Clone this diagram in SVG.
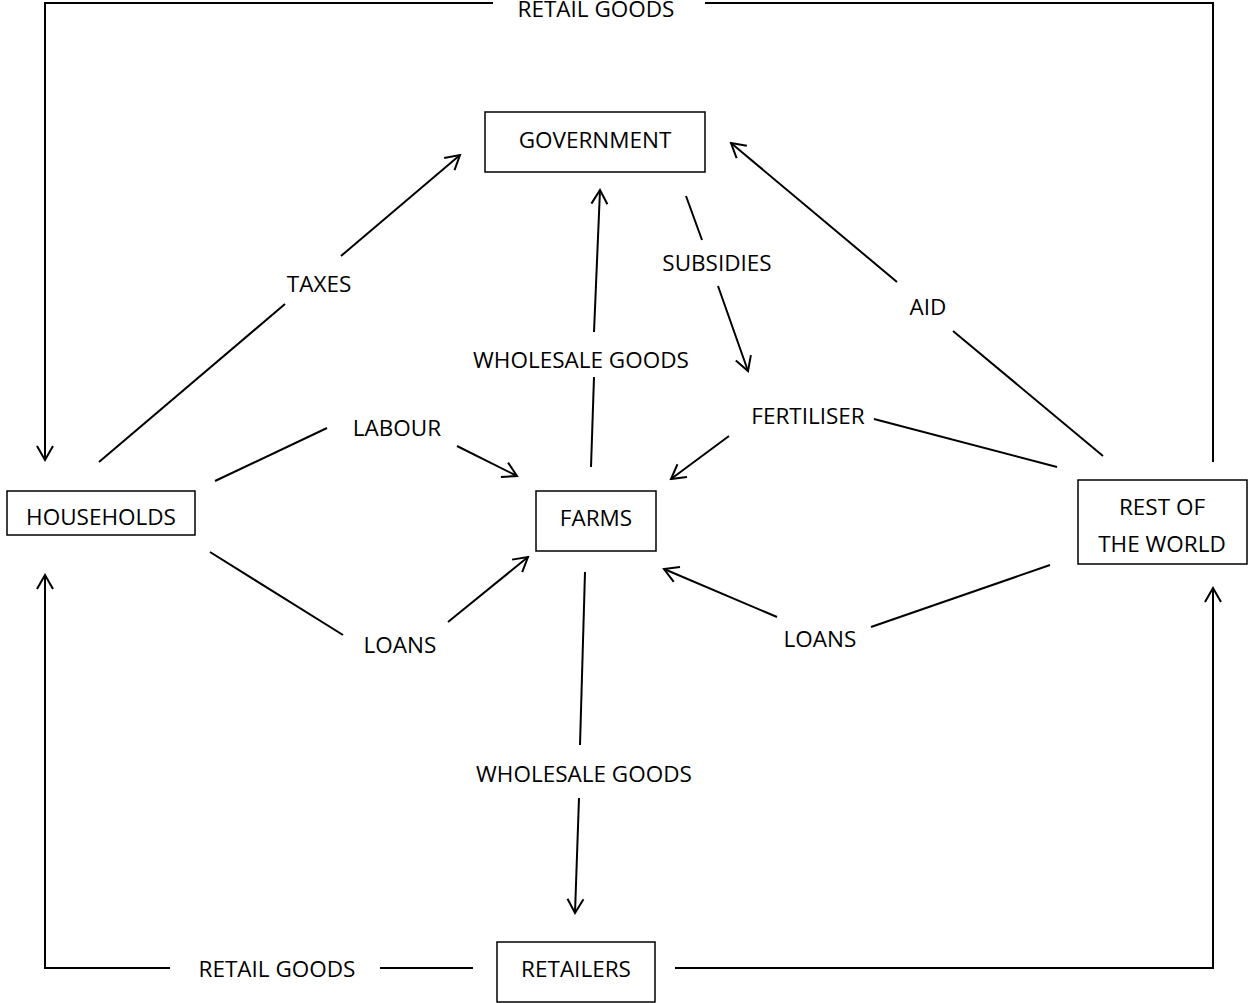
<svg xmlns="http://www.w3.org/2000/svg" width="1250" height="1003" viewBox="0 0 1250 1003">
<style>
.box{fill:#fff;stroke:#000;stroke-width:1.5}
.ln{fill:none;stroke:#000;stroke-width:2}
.t{font-family:"Open Sans","Liberation Sans",sans-serif;font-size:22.5px;fill:#000;text-anchor:middle}
</style>
<defs>
<marker id="ah" viewBox="-16 -10 18 20" markerWidth="18" markerHeight="20" refX="0" refY="0" orient="auto" markerUnits="userSpaceOnUse">
<path d="M-14,-8 L0,0 L-14,8" fill="none" stroke="#000" stroke-width="2"/>
</marker>
</defs>
<rect width="1250" height="1003" fill="#fff"/>
<g id="connectors">
<path class="ln" d="M493,3 H45 V460" marker-end="url(#ah)"/>
<path class="ln" d="M705,3 H1213 V462"/>
<text class="t" x="596" y="17">RETAIL GOODS</text>
<path class="ln" d="M170,968 H45 V575" marker-end="url(#ah)"/>
<path class="ln" d="M380,968 H473"/>
<text class="t" x="277" y="977">RETAIL GOODS</text>
<path class="ln" d="M675,968 H1213 V588" marker-end="url(#ah)"/>
<path class="ln" d="M99,462 L285,304"/>
<text class="t" x="319" y="292">TAXES</text>
<path class="ln" d="M341,256 L460,155" marker-end="url(#ah)"/>
<path class="ln" d="M215,481 L327,428"/>
<text class="t" x="397" y="436">LABOUR</text>
<path class="ln" d="M457,446 L517,476" marker-end="url(#ah)"/>
<path class="ln" d="M210,552 L343,635"/>
<text class="t" x="400" y="653">LOANS</text>
<path class="ln" d="M448,622 L528,557" marker-end="url(#ah)"/>
<path class="ln" d="M591,467 L594,377"/>
<text class="t" x="581" y="368">WHOLESALE GOODS</text>
<path class="ln" d="M594,332 L600,190" marker-end="url(#ah)"/>
<path class="ln" d="M686,196 L702,240"/>
<text class="t" x="717" y="271">SUBSIDIES</text>
<path class="ln" d="M718,286 L748,371" marker-end="url(#ah)"/>
<path class="ln" d="M1057,467 L874,419"/>
<text class="t" x="808" y="424">FERTILISER</text>
<path class="ln" d="M729,436 L671,479" marker-end="url(#ah)"/>
<path class="ln" d="M1103,456 L953,331"/>
<text class="t" x="928" y="315">AID</text>
<path class="ln" d="M897,282 L731,143" marker-end="url(#ah)"/>
<path class="ln" d="M1050,565 L871,627"/>
<text class="t" x="820" y="647">LOANS</text>
<path class="ln" d="M777,617 L664,569" marker-end="url(#ah)"/>
<path class="ln" d="M585,572 L580,745"/>
<text class="t" x="584" y="782">WHOLESALE GOODS</text>
<path class="ln" d="M579,798 L575,913" marker-end="url(#ah)"/>
</g>
<g id="government"><rect class="box" x="485" y="112" width="220" height="60"/><text class="t" x="595" y="148">GOVERNMENT</text></g>
<g id="households"><rect class="box" x="7" y="491" width="188" height="44"/><text class="t" x="101" y="525">HOUSEHOLDS</text></g>
<g id="farms"><rect class="box" x="536" y="491" width="120" height="60"/><text class="t" x="596" y="526">FARMS</text></g>
<g id="rest-of-world"><rect class="box" x="1078" y="480" width="169" height="84"/><text class="t" x="1162" y="515">REST OF</text><text class="t" x="1162" y="552">THE WORLD</text></g>
<g id="retailers"><rect class="box" x="497" y="942" width="158" height="60"/><text class="t" x="576" y="977">RETAILERS</text></g>
</svg>
